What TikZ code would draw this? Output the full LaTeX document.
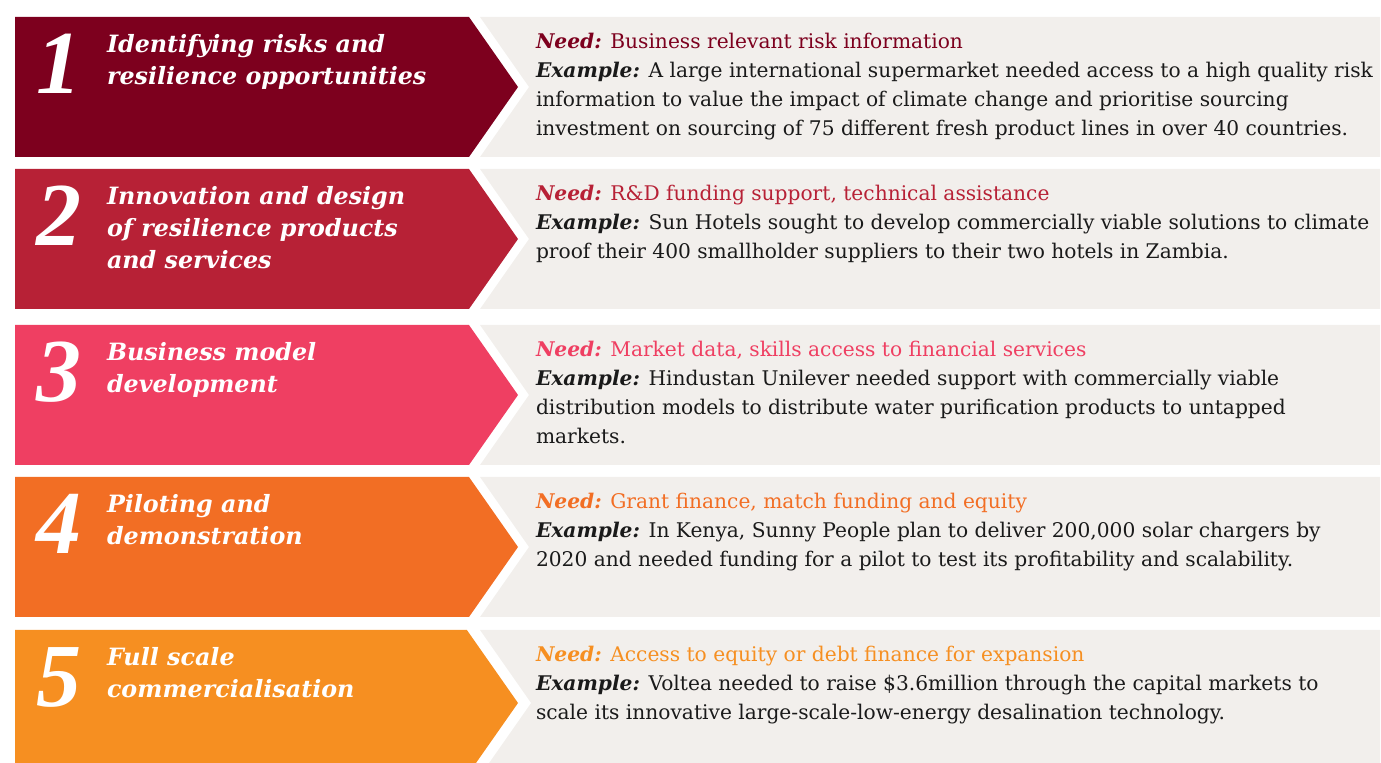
\documentclass[tikz,border=0pt]{standalone}
\usepackage{fontspec}
\setmainfont{DejaVu Serif}
\newfontfamily\numfont{Liberation Serif}
\usetikzlibrary{positioning,shapes.symbols}

\definecolor{stageone}{HTML}{7D001E}
\definecolor{stagetwo}{HTML}{B72136}
\definecolor{stagethree}{HTML}{EF3F62}
\definecolor{stagefour}{HTML}{F26E24}
\definecolor{stagefive}{HTML}{F68F21}
\definecolor{panelgray}{HTML}{F2EFEC}
\definecolor{bodyink}{HTML}{1A1A1A}

\tikzset{
  x=0.5pt, y=-0.5pt,
  every node/.style={inner sep=0pt, outer sep=0pt},
  stagebox/.style={
    signal, signal to=east, signal pointer angle=110,
    minimum width=251.5pt, minimum height=70pt, anchor=west
  },
  needbox/.style={
    signal, signal from=west, signal to=nowhere, signal pointer angle=110,
    fill=panelgray, minimum width=450pt, minimum height=70pt, anchor=east
  },
  stagenum/.style={
    font=\numfont\bfseries\itshape\fontsize{45}{45}\selectfont,
    text=white, anchor=base west
  },
  stagetitle/.style={
    font=\bfseries\itshape\fontsize{11.9}{16}\selectfont,
    text=white, align=left, anchor=north west
  },
  needtext/.style={
    font=\fontsize{10.1}{14.5}\selectfont, text=bodyink,
    align=left, anchor=north west
  }
}
\newcommand{\needlbl}[1]{\textbf{\textit{Need:}} #1}
\newcommand{\examplelbl}{\textbf{\textit{Example:}}}

\begin{document}
\begin{tikzpicture}
\clip (0,0) rectangle (1381,763);

% stage 1
\node[stagebox, fill=stageone] (band1) at (15,87) {};
\node[needbox] (panel1) at (1380,87) {};
\node[stagenum] (num1) at (36,94) {1};
\node[stagetitle] (title1) at (107,34) {Identifying risks and\\resilience opportunities};
\node[needtext] (need1) at (536,33) {\textcolor{stageone}{\needlbl{Business relevant risk information}}\\
  \examplelbl{} A large international supermarket needed access to a high quality risk\\
  information to value the impact of climate change and prioritise sourcing\\
  investment on sourcing of 75 different fresh product lines in over 40 countries.};

% stage 2
\node[stagebox, fill=stagetwo] (band2) at (15,239) {};
\node[needbox] (panel2) at (1380,239) {};
\node[stagenum] (num2) at (36,246) {2};
\node[stagetitle] (title2) at (107,186) {Innovation and design\\of resilience products\\and services};
\node[needtext] (need2) at (536,185) {\textcolor{stagetwo}{\needlbl{R\&D funding support, technical assistance}}\\
  \examplelbl{} Sun Hotels sought to develop commercially viable solutions to climate\\
  proof their 400 smallholder suppliers to their two hotels in Zambia.};

% stage 3
\node[stagebox, fill=stagethree] (band3) at (15,395) {};
\node[needbox] (panel3) at (1380,395) {};
\node[stagenum] (num3) at (36,402) {3};
\node[stagetitle] (title3) at (107,342) {Business model\\development};
\node[needtext] (need3) at (536,341) {\textcolor{stagethree}{\needlbl{Market data, skills access to financial services}}\\
  \examplelbl{} Hindustan Unilever needed support with commercially viable\\
  distribution models to distribute water purification products to untapped\\
  markets.};

% stage 4
\node[stagebox, fill=stagefour] (band4) at (15,547) {};
\node[needbox] (panel4) at (1380,547) {};
\node[stagenum] (num4) at (36,554) {4};
\node[stagetitle] (title4) at (107,494) {Piloting and\\demonstration};
\node[needtext] (need4) at (536,493) {\textcolor{stagefour}{\needlbl{Grant finance, match funding and equity}}\\
  \examplelbl{} In Kenya, Sunny People plan to deliver 200,000 solar chargers by\\
  2020 and needed funding for a pilot to test its profitability and scalability.};

% stage 5 (runs off the bottom edge)
\node[stagebox, fill=stagefive, minimum height=73pt] (band5) at (15,703) {};
\node[needbox, minimum height=73pt] (panel5) at (1380,703) {};
\node[stagenum] (num5) at (36,707) {5};
\node[stagetitle] (title5) at (107,647) {Full scale\\commercialisation};
\node[needtext] (need5) at (536,646) {\textcolor{stagefive}{\needlbl{Access to equity or debt finance for expansion}}\\
  \examplelbl{} Voltea needed to raise \$3.6million through the capital markets to\\
  scale its innovative large-scale-low-energy desalination technology.};

\end{tikzpicture}
\end{document}
